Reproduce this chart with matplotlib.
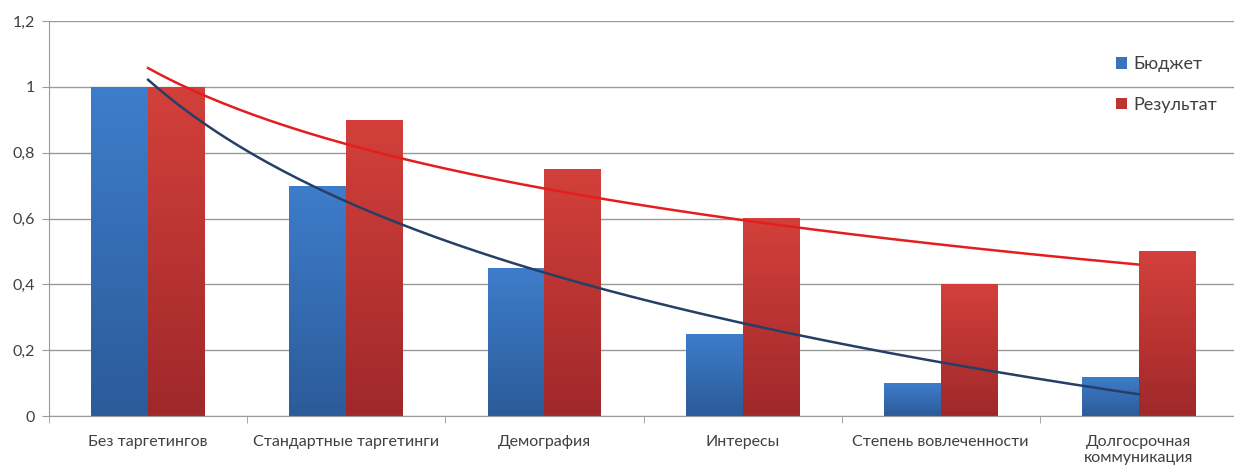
import numpy as np
import matplotlib
matplotlib.use("Agg")
import matplotlib.pyplot as plt
from matplotlib.colors import LinearSegmentedColormap
from matplotlib.patches import Patch

plt.rcParams['font.family'] = ['Lato', 'DejaVu Sans']

categories = ["Без таргетингов", "Стандартные таргетинги", "Демография",
              "Интересы", "Степень вовлеченности", "Долгосрочная\nкоммуникация"]
budget = [1.0, 0.7, 0.45, 0.25, 0.1, 0.12]
result = [1.0, 0.9, 0.75, 0.6, 0.4, 0.5]
series_names = ["Бюджет", "Результат"]
ytick_vals = [0, 0.2, 0.4, 0.6, 0.8, 1.0, 1.2]
ytick_labels = ["0", "0,2", "0,4", "0,6", "0,8", "1", "1,2"]

fig = plt.figure(figsize=(12.34, 4.70), dpi=100)
ax = fig.add_axes([49/1234, 1-416/470, (1238-49)/1234, (416-21)/470])

x = np.arange(len(categories))
w = 0.287

cmap_blue = LinearSegmentedColormap.from_list("b", ["#2B5B99", "#3E7DCB"])
cmap_red = LinearSegmentedColormap.from_list("r", ["#A0282A", "#D3403B"])

bars_b = ax.bar(x - w/2, budget, w, color="none", edgecolor="none", zorder=2)
bars_r = ax.bar(x + w/2, result, w, color="none", edgecolor="none", zorder=2)

grad = np.linspace(0, 1, 256).reshape(-1, 1)
for bars, cm in ((bars_b, cmap_blue), (bars_r, cmap_red)):
    for b in bars:
        x0, y0 = b.get_x(), b.get_y()
        bw, bh = b.get_width(), b.get_height()
        im = ax.imshow(grad, cmap=cm, aspect="auto", origin="lower",
                       extent=[x0, x0 + bw, y0, y0 + bh], zorder=2)
        im.set_clip_path(b)

# logarithmic trendlines (as in Excel)
xs = np.linspace(1, len(categories), 200)
lx = np.log(np.arange(1, len(categories) + 1))
cb = np.polyfit(lx, budget, 1)
cr = np.polyfit(lx, result, 1)
ax.plot(xs - 1, np.polyval(cb, np.log(xs)), color="#263F66", lw=1.8, zorder=3)
ax.plot(xs - 1, np.polyval(cr, np.log(xs)), color="#E41E1E", lw=1.8, zorder=3)

ax.set_xlim(-0.5, len(categories) - 0.5)
ax.set_ylim(0, 1.2)
ax.set_yticks(ytick_vals)
ax.set_yticklabels(ytick_labels, fontsize=11.5, color="#404040")
ax.yaxis.grid(True, color="#9A9A9A", lw=1)
ax.set_axisbelow(True)

ax.set_xticks(x)
ax.set_xticklabels(categories, fontsize=11.5, color="#404040", linespacing=1.1)
ax.tick_params(axis="x", length=0, pad=14)
ax.set_xticks(np.arange(len(categories) + 1) - 0.5, minor=True)
ax.tick_params(axis="x", which="minor", length=5, direction="out", color="#9A9A9A")
ax.tick_params(axis="y", length=5, direction="out", color="#9A9A9A", pad=5)

for s in ("top", "right"):
    ax.spines[s].set_visible(False)
for s in ("left", "bottom"):
    ax.spines[s].set_color("#9A9A9A")

handles = [Patch(facecolor="#3A74BE"), Patch(facecolor="#BE3431")]
leg = ax.legend(handles, series_names, loc="upper left",
                bbox_to_anchor=(1100/1234, 1-40/470), bbox_transform=fig.transFigure,
                frameon=False, fontsize=13, handlelength=0.6, handleheight=0.6,
                handletextpad=0.35, labelspacing=1.35, labelcolor="#404040")

fig.savefig("out.png", dpi=100, facecolor="white")
